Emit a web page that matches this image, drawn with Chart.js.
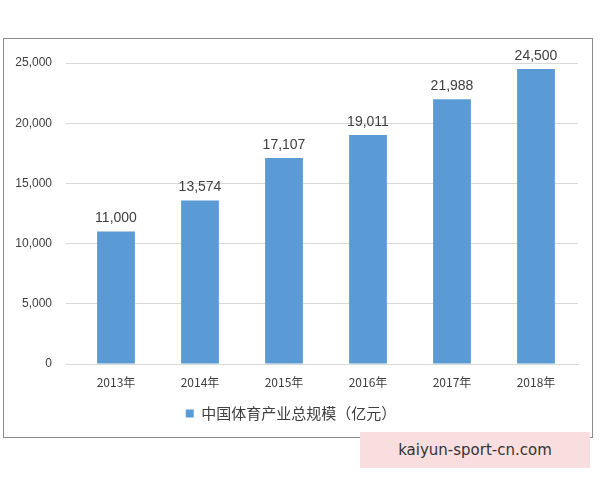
<!DOCTYPE html>
<html><head><meta charset="utf-8">
<script src="https://cdn.jsdelivr.net/npm/chart.js@4"></script>
<style>
body{margin:0;background:#fff;width:600px;height:480px;position:relative;overflow:hidden}
#box{position:absolute;left:3px;top:38px;width:588px;height:398px;border:1px solid #8c8c8c}
#wm{position:absolute;left:360px;top:432px;width:230px;height:36px;background:#f8dede;color:#333;font:15px "DejaVu Sans",sans-serif;line-height:36px;text-align:center}
</style></head><body>
<div id="box"><canvas id="grafico"></canvas></div>
<div id="wm">kaiyun-sport-cn.com</div>
<script>
const anos = ["2013年","2014年","2015年","2016年","2017年","2018年"];
const valores = [11000, 13574, 17107, 19011, 21988, 24500];
const serie = "中国体育产业总规模（亿元）";

const rotulos = {
  id: "rotulos",
  afterDatasetsDraw(chart) {
    const ctx = chart.ctx;
    ctx.save();
    ctx.font = '14px "Liberation Sans", sans-serif';
    ctx.fillStyle = "#404040";
    ctx.textAlign = "center";
    ctx.textBaseline = "bottom";
    chart.getDatasetMeta(0).data.forEach((bar, i) => {
      ctx.fillText(valores[i].toLocaleString("en-US"), bar.x, bar.y - 6);
    });
    ctx.restore();
  }
};

new Chart(document.getElementById("grafico"), {
  type: "bar",
  data: {
    labels: anos,
    datasets: [{
      label: serie,
      data: valores,
      backgroundColor: "#5b9bd5",
      categoryPercentage: 1,
      barPercentage: 0.45
    }]
  },
  options: {
    responsive: true,
    maintainAspectRatio: false,
    animation: false,
    layout: { padding: { left: 0, right: 14, top: 24, bottom: 6 } },
    plugins: {
      tooltip: { enabled: false },
      legend: {
        position: "bottom",
        labels: { boxWidth: 8, boxHeight: 8, color: "#404040", padding: 12,
          font: { size: 15, family: '"Noto Sans CJK SC", sans-serif' } }
      }
    },
    scales: {
      x: {
        grid: { display: false },
        border: { color: "#d9d9d9" },
        ticks: { color: "#404040", font: { size: 12, family: '"Noto Sans CJK SC", serif' } },
        afterFit(s) { s.height = 30; }
      },
      y: {
        min: 0, max: 25000,
        ticks: { stepSize: 5000, color: "#404040", padding: 14,
          font: { size: 12, family: '"Liberation Sans", sans-serif' },
          callback: v => v.toLocaleString("en-US") },
        grid: { color: "#d9d9d9" },
        border: { display: false },
        afterFit(s) { s.width = 70; }
      }
    }
  },
  plugins: [rotulos]
});
</script>
</body></html>
